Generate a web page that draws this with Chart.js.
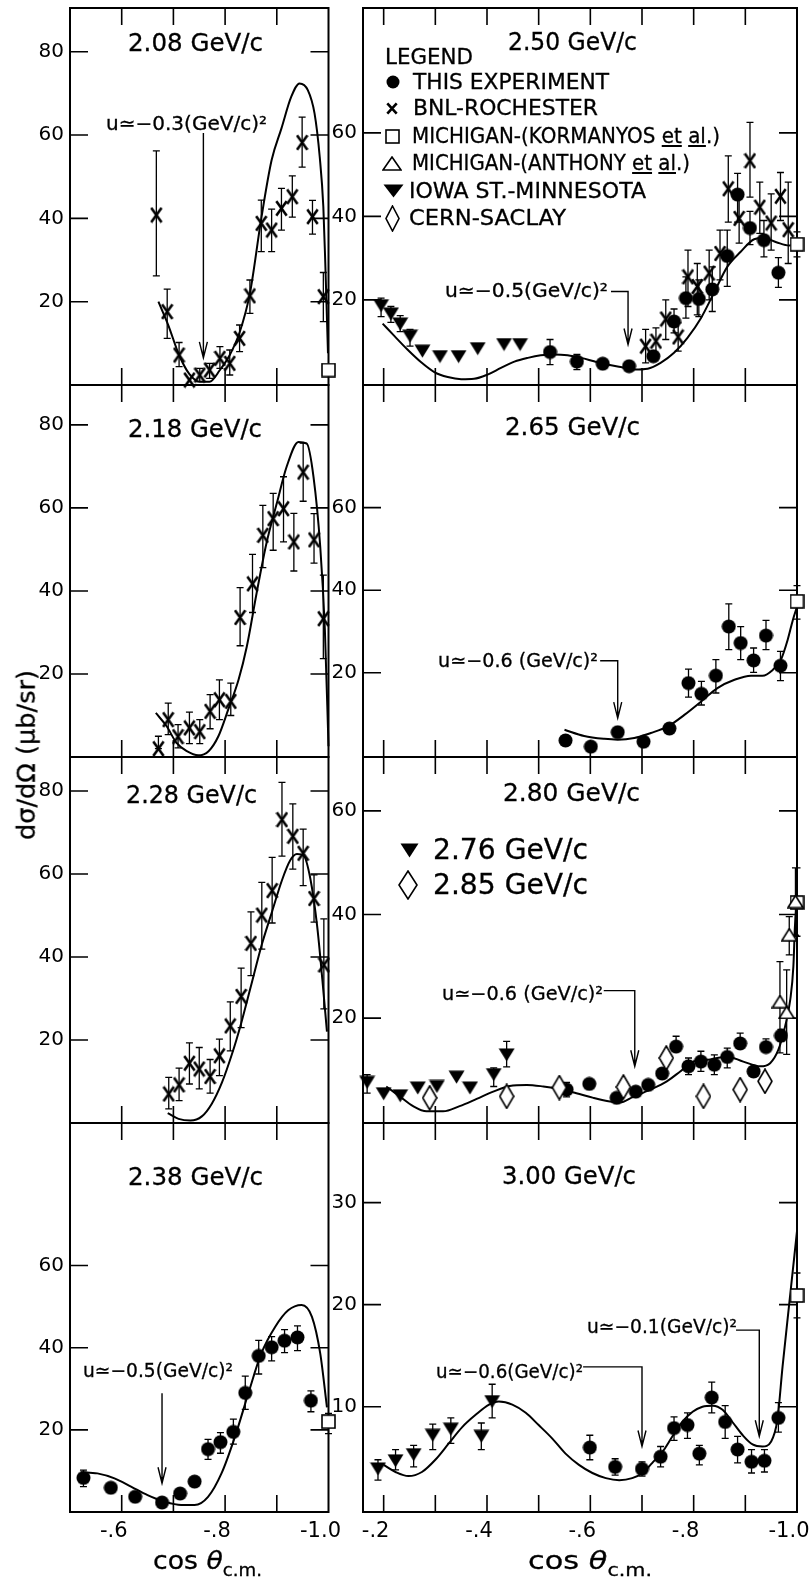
<!DOCTYPE html>
<html lang="en">
<head>
  <meta charset="UTF-8">
  <title>Backward elastic scattering - dσ/dΩ vs cos θ</title>
  <script src="https://cdn.jsdelivr.net/npm/chart.js"></script>
  <style>
    body { margin: 0; background: #fff; }
    #page { position: relative; width: 812px; height: 1583px; overflow: hidden; background: #fff; }
    #page canvas.panel { position: absolute; left: 0; top: 0; }
    .txt { position: absolute; white-space: nowrap; line-height: 1; font-family: "DejaVu Sans", sans-serif; color: #000;
           transform-origin: 0 50%; -webkit-text-stroke: 0.3px #000; }
    .sym { position: absolute; }
  </style>
</head>
<body>
<div id="page"></div>
<script>
// ---------------- axis ticks ----------------
const xTicksLeft = [-0.6, -0.7, -0.8, -0.9];
const xTicksRight = [-0.2, -0.3, -0.4, -0.5, -0.6, -0.7, -0.8, -0.9];
const xLabelsLeft = [-0.6, -0.8, -1.0];
const xLabelsRight = [-0.2, -0.4, -0.6, -0.8, -1.0];
const yTicks80 = [20, 40, 60, 80];
const yTicks60 = [20, 40, 60];
const yTicks30 = [10, 20, 30];

// ---------------- 2.08 GeV/c ----------------
const cos208Bnl = [-0.667, -0.688, -0.711, -0.731, -0.751, -0.770, -0.790, -0.809, -0.828, -0.848, -0.870, -0.890, -0.909, -0.930, -0.949, -0.969, -0.990];
const val208Bnl = [40.8, 17.6, 7.2, 1.2, 2.4, 3.6, 6.4, 5.2, 11.2, 21.4, 38.8, 37.2, 42.4, 45.2, 58.2, 40.4, 21.2];
const hi208Bnl = [56.2, 23.0, 10.2, null, 4.0, 5.2, 9.2, 8.4, 14.4, 25.2, 44.4, 42.2, 47.2, 50.2, 64.3, 44.3, 27.0];
const lo208Bnl = [26.2, 11.2, 4.4, null, 0.8, 1.6, 4.0, 2.4, 8.0, 17.2, 32.0, 32.0, 37.2, 40.3, 52.3, 36.2, 15.2];
const cos208Mich = [-1.0];
const val208Mich = [3.6];
const cos208Fit = [-0.671, -0.690, -0.711, -0.731, -0.751, -0.770, -0.790, -0.809, -0.828, -0.848, -0.870, -0.890, -0.909, -0.928, -0.944, -0.960, -0.973, -0.983, -0.990, -0.994, -0.999];
const val208Fit = [20.0, 14.4, 7.2, 2.6, 0.8, 0.8, 3.6, 7.2, 12.6, 22.0, 40.0, 54.0, 61.6, 69.2, 72.4, 70.8, 65.2, 54.8, 42.8, 28.4, 7.6];
const arr208X = [-0.758], arr208From = [null], arr208Top = [60.5], arr208Tip = [6.5];

// ---------------- 2.18 GeV/c ----------------
const cos218Bnl = [-0.671, -0.690, -0.709, -0.731, -0.751, -0.771, -0.789, -0.811, -0.829, -0.853, -0.873, -0.893, -0.913, -0.933, -0.951, -0.972, -0.990];
const val218Bnl = [2.0, 9.0, 4.9, 7.0, 6.1, 11.0, 13.8, 13.4, 33.6, 41.7, 53.4, 57.4, 59.8, 51.8, 68.6, 52.3, 33.3];
const hi218Bnl = [5.0, 13.0, 7.8, 10.8, 9.0, 15.0, 18.6, 17.8, 40.8, 48.8, 60.6, 63.5, 67.5, 58.7, 75.6, 58.6, 43.8];
const lo218Bnl = [2.0, 5.4, 2.2, 3.2, 3.2, 6.8, 9.0, 10.0, 26.8, 34.8, 45.6, 49.8, 51.8, 44.8, 61.6, 46.7, 23.7];
const cos218Fit = [-0.666, -0.687, -0.706, -0.726, -0.748, -0.768, -0.787, -0.806, -0.826, -0.842, -0.861, -0.880, -0.900, -0.919, -0.942, -0.958, -0.971, -0.984, -0.993, -1.0];
const val218Fit = [10.6, 7.4, 3.4, 1.4, 0.4, 1.4, 5.0, 11.4, 18.6, 26.6, 39.5, 51.5, 61.1, 69.9, 75.9, 75.5, 67.5, 50.7, 30.6, 2.6];

// ---------------- 2.28 GeV/c ----------------
const cos228Bnl = [-0.691, -0.711, -0.731, -0.750, -0.771, -0.789, -0.810, -0.831, -0.850, -0.871, -0.891, -0.910, -0.931, -0.951, -0.972, -0.991];
const val228Bnl = [7.0, 9.2, 14.4, 13.0, 11.2, 16.2, 23.4, 30.5, 43.3, 50.1, 56.0, 73.1, 69.1, 65.0, 54.1, 38.1];
const hi228Bnl = [11.0, 13.2, 19.3, 18.2, 15.3, 20.2, 29.2, 37.3, 50.9, 58.0, 64.0, 82.1, 76.9, 70.8, 59.8, 49.2];
const lo228Bnl = [3.4, 5.4, 9.4, 8.2, 7.2, 11.4, 17.4, 23.0, 35.5, 41.9, 48.2, 64.3, 61.2, 57.2, 48.4, 27.5];
const cos228Fit = [-0.689, -0.710, -0.733, -0.755, -0.774, -0.794, -0.813, -0.831, -0.850, -0.871, -0.891, -0.910, -0.926, -0.939, -0.952, -0.965, -0.978, -0.988, -0.997];
const val228Fit = [2.4, 1.0, 0.6, 1.6, 4.6, 9.8, 16.5, 24.0, 33.0, 43.0, 51.0, 58.5, 63.3, 64.8, 64.4, 58.8, 47.5, 34.7, 22.0];

// ---------------- 2.38 GeV/c ----------------
const cos238Dot = [-0.526, -0.579, -0.626, -0.678, -0.713, -0.741, -0.767, -0.791, -0.816, -0.839, -0.865, -0.890, -0.915, -0.940, -0.966];
const val238Dot = [8.3, 5.9, 3.7, 2.3, 4.5, 7.4, 15.3, 17.0, 19.5, 29.0, 38.0, 40.1, 41.7, 42.5, 27.1];
const hi238Dot = [10.2, null, null, null, null, null, 17.7, 19.3, 22.6, 33.1, 41.8, 42.7, 44.4, 45.3, 29.5];
const lo238Dot = [6.2, null, null, null, null, null, 12.8, 14.3, 16.5, 25.0, 33.6, 36.8, 38.8, 39.3, 24.4];
const cos238Mich = [-1.0], val238Mich = [22.0], hi238Mich = [24.0], lo238Mich = [19.1];
const cos238Fit = [-0.521, -0.553, -0.586, -0.618, -0.650, -0.683, -0.715, -0.741, -0.767, -0.793, -0.819, -0.845, -0.870, -0.897, -0.922, -0.948, -0.968, -0.984, -0.997];
const val238Fit = [9.7, 9.4, 8.2, 6.2, 4.1, 2.5, 1.7, 1.7, 3.7, 9.4, 18.3, 28.9, 38.6, 45.1, 49.1, 50.4, 47.5, 38.6, 25.5];
const arr238X = [-0.678], arr238From = [null], arr238Top = [28.9], arr238Tip = [7.0];

// ---------------- 2.50 GeV/c ----------------
const cos250Iowa = [-0.195, -0.214, -0.232, -0.251, -0.275, -0.309, -0.345, -0.382, -0.433, -0.464];
const val250Iowa = [18.6, 16.6, 14.2, 11.3, 7.7, 6.4, 6.4, 8.3, 9.3, 9.3];
const hi250Iowa = [20.4, 18.4, 16.2, 12.9, null, null, null, null, null, null];
const lo250Iowa = [16.0, 14.6, 12.4, 8.9, null, null, null, null, null, null];
const cos250Dot = [-0.522, -0.574, -0.624, -0.675, -0.722, -0.762, -0.785, -0.810, -0.836, -0.865, -0.885, -0.909, -0.936, -0.964];
const val250Dot = [7.5, 5.2, 4.7, 4.1, 6.5, 14.8, 20.4, 20.2, 22.5, 30.5, 45.2, 37.2, 34.3, 26.5];
const hi250Dot = [10.5, 6.9, null, null, null, 17.8, 25.5, 24.8, 27.9, 36.7, 50.3, 41.2, 39.0, 30.1];
const lo250Dot = [4.5, 3.3, null, null, null, 12.1, 15.6, 16.0, 17.2, 23.2, 38.6, 33.2, 30.3, 23.0];
const cos250Bnl = [-0.707, -0.727, -0.746, -0.770, -0.789, -0.807, -0.830, -0.851, -0.867, -0.888, -0.909, -0.928, -0.950, -0.968, -0.983];
const val250Bnl = [8.9, 10.1, 15.4, 11.1, 25.5, 23.2, 26.4, 31.1, 46.6, 39.5, 53.3, 42.2, 38.4, 44.8, 36.8];
const hi250Bnl = [12.9, 13.3, 20.0, 14.5, 31.9, 28.7, 31.9, 36.7, 54.5, 45.6, 62.5, 48.2, 45.4, 50.5, 48.2];
const lo250Bnl = [4.9, 6.9, 10.5, 7.7, 18.4, 16.4, 20.0, 24.8, 38.6, 33.6, 44.6, 35.9, 31.9, 39.0, 28.7];
const cos250Mich = [-1.0], val250Mich = [33.3], hi250Mich = [36.3], lo250Mich = [30.3];
const cos250Fit = [-0.198, -0.221, -0.246, -0.272, -0.298, -0.324, -0.350, -0.375, -0.401, -0.427, -0.453, -0.479, -0.504, -0.530, -0.556, -0.582, -0.607, -0.633, -0.659, -0.685, -0.711, -0.736, -0.762, -0.788, -0.814, -0.839, -0.865, -0.891, -0.917, -0.936, -0.960, -0.985, -1.0];
const val250Fit = [14.3, 11.3, 8.1, 5.1, 2.7, 1.5, 1.0, 1.1, 2.1, 3.7, 5.2, 6.1, 6.7, 6.9, 6.7, 6.1, 5.3, 4.5, 3.9, 3.3, 3.5, 4.9, 7.3, 10.9, 15.6, 21.6, 27.9, 31.5, 34.5, 34.8, 33.8, 33.0, 33.3];
const arr250X = [-0.673], arr250From = [-0.640], arr250Top = [22.0], arr250Tip = [9.3];

// ---------------- 2.65 GeV/c ----------------
const cos265Dot = [-0.552, -0.601, -0.653, -0.703, -0.753, -0.790, -0.815, -0.843, -0.868, -0.891, -0.916, -0.940, -0.968];
const val265Dot = [3.6, 2.1, 5.6, 3.3, 6.5, 17.5, 14.9, 19.3, 31.2, 27.2, 23.0, 29.0, 21.7];
const hi265Dot = [null, null, null, null, null, 20.9, 17.9, 23.2, 36.7, 31.2, 26.0, 32.7, 25.2];
const lo265Dot = [null, null, null, null, null, 14.1, 12.2, 15.1, 25.6, 23.2, 20.1, 25.6, 18.1];
const cos265Mich = [-1.0], val265Mich = [37.3], hi265Mich = [41.1], lo265Mich = [33.0];
const cos265Fit = [-0.550, -0.588, -0.627, -0.653, -0.685, -0.717, -0.750, -0.782, -0.814, -0.846, -0.879, -0.911, -0.933, -0.953, -0.969, -0.982, -0.992, -1.0];
const val265Fit = [6.2, 4.7, 4.0, 3.8, 4.2, 5.4, 7.0, 9.8, 13.0, 16.3, 18.3, 19.3, 19.3, 20.7, 23.2, 28.0, 32.8, 36.0];
const arr265X = [-0.653], arr265From = [-0.619], arr265Top = [22.9], arr265Tip = [9.0];

// ---------------- 2.80 GeV/c ----------------
const cos276Iowa = [-0.168, -0.200, -0.232, -0.266, -0.303, -0.341, -0.367, -0.413, -0.438];
const val276Iowa = [7.6, 5.4, 5.0, 6.5, 6.8, 8.6, 6.5, 9.1, 12.9];
const hi276Iowa = [9.1, null, null, null, null, null, null, 10.4, 15.5];
const lo276Iowa = [5.5, null, null, null, null, null, null, 6.8, 10.6];
const cos285Cern = [-0.289, -0.438, -0.540, -0.664, -0.747, -0.819, -0.890, -0.938];
const val285Cern = [4.6, 4.9, 6.6, 6.7, 12.3, 4.9, 6.2, 7.8];
const cos280Dot = [-0.554, -0.598, -0.651, -0.688, -0.712, -0.739, -0.766, -0.790, -0.814, -0.840, -0.865, -0.890, -0.916, -0.940, -0.969];
const val280Dot = [6.2, 7.3, 4.6, 5.8, 7.1, 9.3, 14.5, 10.7, 11.6, 11.0, 12.5, 15.1, 9.7, 14.4, 16.6];
const hi280Dot = [7.6, null, null, null, null, null, 16.5, 12.3, 13.6, 12.9, 14.2, 17.1, null, 16.0, 17.8];
const lo280Dot = [4.8, null, null, null, null, null, 14.5, 9.1, 9.7, 9.1, 10.4, 15.1, null, 14.4, 15.5];
const cos280Anth = [-0.967, -0.980, -0.985, -0.997];
const val280Anth = [23.2, 21.1, 36.1, 42.5];
const hi280Anth = [30.9, 29.3, 39.6, 49.0];
const lo280Anth = [13.3, 13.0, 32.2, 36.0];
const cos280Mich = [-1.0], val280Mich = [42.3], hi280Mich = [49.0], lo280Mich = [35.8];
const cos280Fit = [-0.205, -0.231, -0.257, -0.283, -0.315, -0.347, -0.380, -0.412, -0.444, -0.477, -0.509, -0.541, -0.573, -0.606, -0.638, -0.657, -0.683, -0.716, -0.748, -0.774, -0.799, -0.832, -0.864, -0.896, -0.929, -0.948, -0.964, -0.977, -0.987, -0.993, -0.996, -1.0];
const val280Fit = [6.8, 4.9, 3.0, 2.0, 2.0, 3.0, 4.4, 5.8, 6.9, 7.1, 6.8, 6.3, 5.5, 4.6, 3.9, 3.7, 4.8, 6.2, 7.8, 9.7, 11.6, 12.0, 12.6, 11.6, 10.7, 11.3, 13.9, 18.4, 23.6, 30.0, 37.7, 42.9];
const arr280X = [-0.686], arr280From = [-0.626], arr280Top = [25.3], arr280Tip = [10.7];

// ---------------- 3.00 GeV/c ----------------
const cos300Iowa = [-0.189, -0.223, -0.258, -0.295, -0.330, -0.389, -0.410];
const val300Iowa = [3.9, 4.7, 5.3, 7.2, 7.8, 7.1, 10.5];
const hi300Iowa = [4.8, 5.8, 6.2, 8.3, 8.9, 8.4, 12.2];
const lo300Iowa = [2.8, 3.8, 4.1, 5.8, 6.4, 5.8, 8.9];
const cos300Dot = [-0.599, -0.648, -0.700, -0.736, -0.762, -0.788, -0.811, -0.835, -0.861, -0.885, -0.912, -0.937, -0.964];
const val300Dot = [6.0, 4.1, 3.9, 5.1, 7.9, 8.2, 5.4, 10.9, 8.5, 5.8, 4.6, 4.7, 8.9];
const hi300Dot = [7.2, 4.9, 4.6, 6.1, 9.0, 9.4, 6.2, 12.4, 10.1, 7.1, 5.8, 5.8, 10.4];
const lo300Dot = [4.8, 3.3, 3.2, 4.1, 6.7, 6.9, 4.3, 9.4, 6.9, 4.5, 3.5, 3.6, 7.5];
const cos300Mich = [-1.0], val300Mich = [20.9], hi300Mich = [23.1], lo300Mich = [18.7];
const cos300Fit = [-0.200, -0.223, -0.248, -0.274, -0.300, -0.326, -0.352, -0.378, -0.404, -0.423, -0.449, -0.475, -0.500, -0.526, -0.552, -0.578, -0.604, -0.630, -0.656, -0.681, -0.701, -0.720, -0.740, -0.759, -0.778, -0.798, -0.817, -0.837, -0.856, -0.875, -0.895, -0.914, -0.933, -0.950, -0.962, -0.972, -0.985, -1.0];
const val300Fit = [4.3, 3.6, 3.2, 3.6, 4.8, 6.4, 8.0, 9.2, 10.2, 10.5, 10.2, 9.4, 8.2, 6.9, 5.4, 4.3, 3.5, 3.0, 2.8, 3.0, 3.5, 4.5, 5.6, 7.1, 8.5, 9.5, 10.0, 10.1, 9.7, 8.5, 7.2, 6.3, 6.1, 6.6, 8.7, 13.9, 20.1, 27.2];
const arr300X = [-0.700, -0.927], arr300From = [-0.586, -0.882], arr300Top = [13.9, 17.5], arr300Tip = [6.1, 7.1];

// ---------------- layout ----------------
const W = 812, H = 1583, AX = 44;
const FONT = '"DejaVu Sans", sans-serif';
const page = document.getElementById('page');
const colLeft = { l: 70, r: 328.5, xMax: -0.5, xt: xTicksLeft, xl: xLabelsLeft };
const colRight = { l: 363, r: 797, xMax: -0.16, xt: xTicksRight, xl: xLabelsRight };
const rowEdges = [8, 385, 757, 1123, 1512];

Chart.defaults.font.family = FONT;

// marker images
function sym(w, h, draw) {
  const c = document.createElement('canvas');
  c.width = w; c.height = h;
  const g = c.getContext('2d');
  g.strokeStyle = '#000'; g.fillStyle = '#000'; g.lineWidth = 1.6;
  draw(g, w, h);
  return c;
}
const dot = d => sym(d + 1, d + 1, (g, w) => { g.beginPath(); g.arc(w / 2, w / 2, d / 2, 0, Math.PI * 2); g.fill(); });
const cross = (w, h) => sym(w, h, g => {
  g.lineWidth = 2.6; g.beginPath();
  g.moveTo(1.3, 1.3); g.lineTo(w - 1.3, h - 1.3); g.moveTo(w - 1.3, 1.3); g.lineTo(1.3, h - 1.3); g.stroke();
});
const square = s => sym(s, s, g => { g.fillStyle = '#fff'; g.fillRect(1, 1, s - 2, s - 2); g.strokeRect(1, 1, s - 2, s - 2); });
const triUp = (w, h) => sym(w, h, g => {
  g.beginPath(); g.moveTo(w / 2, 1); g.lineTo(w - 1, h - 1); g.lineTo(1, h - 1); g.closePath();
  g.fillStyle = '#fff'; g.fill(); g.stroke();
});
const triDown = (w, h) => sym(w, h, g => {
  g.beginPath(); g.moveTo(0.5, 0.5); g.lineTo(w - 0.5, 0.5); g.lineTo(w / 2, h - 0.5); g.closePath(); g.fill();
});
const diamond = (w, h) => sym(w, h, g => {
  g.beginPath(); g.moveTo(w / 2, 1); g.lineTo(w - 1, h / 2); g.lineTo(w / 2, h - 1); g.lineTo(1, h / 2); g.closePath();
  g.fillStyle = '#fff'; g.fill(); g.stroke();
});

const DOT = dot(14), CROSS = cross(13, 17), SQUARE = square(15);
const TRI_UP = triUp(17, 14), TRI_DN = triDown(17, 14), DIAM = diamond(16, 26);

const pts = (xs, ys) => xs.map((v, i) => ({ x: v, y: ys[i] }));
function marks(xs, ys, style, hi, lo) {
  return { data: pts(xs, ys), showLine: false, pointStyle: style, pointRadius: 7, errHi: hi, errLo: lo, clip: false, order: 0 };
}
function curve(xs, ys) {
  return { data: pts(xs, ys), showLine: true, borderColor: '#000', borderWidth: 2, pointRadius: 0,
           cubicInterpolationMode: 'monotone', fill: false, clip: false, order: 1 };
}
function arrows(xs, from, top, tip) {
  return xs.map((v, i) => ({ x: v, from: from[i], top: top[i], tip: tip[i] }));
}

// frame, inward ticks, error bars and pointer arrows
const framePlugin = {
  id: 'frame',
  beforeDatasetsDraw(chart, args, opts) {
    const { ctx, chartArea: a, scales: { x, y } } = chart;
    ctx.save();
    ctx.strokeStyle = '#000';
    ctx.lineWidth = 2;
    ctx.strokeRect(a.left, a.top, a.right - a.left, a.bottom - a.top);
    ctx.lineWidth = 1.6;
    ctx.beginPath();
    opts.xt.forEach(v => {
      const px = x.getPixelForValue(v);
      ctx.moveTo(px, a.top); ctx.lineTo(px, a.top + 17);
      ctx.moveTo(px, a.bottom); ctx.lineTo(px, a.bottom - 17);
    });
    opts.yt.forEach(v => {
      const py = y.getPixelForValue(v);
      ctx.moveTo(a.left, py); ctx.lineTo(a.left + 18, py);
      ctx.moveTo(a.right, py); ctx.lineTo(a.right - 18, py);
    });
    ctx.stroke();

    ctx.lineWidth = 1.3;
    ctx.beginPath();
    chart.data.datasets.forEach(ds => {
      if (!ds.errHi) return;
      ds.data.forEach((p, i) => {
        const hi = ds.errHi[i], lo = ds.errLo[i];
        if (hi == null || lo == null) return;
        const px = x.getPixelForValue(p.x), y1 = y.getPixelForValue(hi), y2 = y.getPixelForValue(lo);
        ctx.moveTo(px, y1); ctx.lineTo(px, y2);
        ctx.moveTo(px - 3.5, y1); ctx.lineTo(px + 3.5, y1);
        ctx.moveTo(px - 3.5, y2); ctx.lineTo(px + 3.5, y2);
      });
    });
    ctx.stroke();

    ctx.lineWidth = 1.4;
    ctx.beginPath();
    (opts.arrows || []).forEach(ar => {
      const ax = x.getPixelForValue(ar.x), ty = y.getPixelForValue(ar.top), tp = y.getPixelForValue(ar.tip);
      if (ar.from != null) {
        ctx.moveTo(x.getPixelForValue(ar.from), ty); ctx.lineTo(ax, ty);
      } else {
        ctx.moveTo(ax, ty);
      }
      ctx.lineTo(ax, tp);
      ctx.moveTo(ax - 4, tp - 16); ctx.lineTo(ax, tp); ctx.lineTo(ax + 4, tp - 16);
    });
    ctx.stroke();
    ctx.restore();
  }
};

const fmtX = v => { const s = Math.abs(v).toFixed(1); return '-' + (s[0] === '0' ? s.slice(1) : s); };
const fixBox = horiz => s => {
  if (horiz) s.height = AX; else s.width = AX;
  s.paddingLeft = s.paddingRight = s.paddingTop = s.paddingBottom = 0;
};

function panel(o) {
  const cv = document.createElement('canvas');
  cv.className = 'panel';
  cv.width = W; cv.height = H;
  page.appendChild(cv);
  const c = o.col, t = rowEdges[o.row], b = rowEdges[o.row + 1];
  new Chart(cv, {
    type: 'line',
    data: { datasets: o.sets },
    options: {
      responsive: false,
      animation: false,
      events: [],
      layout: { padding: { left: c.l - AX, top: t, right: W - c.r, bottom: H - b - AX } },
      plugins: {
        legend: { display: false },
        tooltip: { enabled: false },
        frame: { xt: c.xt, yt: o.yt, arrows: o.arrows }
      },
      scales: {
        x: {
          type: 'linear', min: -1, max: c.xMax, reverse: true,
          grid: { display: false, drawTicks: false }, border: { display: false },
          ticks: { display: !!o.bottom, padding: 7, labelOffset: -8, color: '#000', font: { family: FONT, size: 21 },
                   maxRotation: 0, autoSkip: false, callback: fmtX },
          afterBuildTicks: s => { s.ticks = (o.bottom ? c.xl : []).map(v => ({ value: v })); },
          afterFit: fixBox(true)
        },
        y: {
          type: 'linear', min: o.yMin, max: o.yMax,
          grid: { display: false, drawTicks: false }, border: { display: false },
          ticks: { padding: 6, color: '#000', font: { family: FONT, size: 20 }, callback: v => String(v) },
          afterBuildTicks: s => { s.ticks = o.yt.map(v => ({ value: v })); },
          afterFit: fixBox(false)
        }
      }
    },
    plugins: [framePlugin]
  });
}

panel({ col: colLeft, row: 0, yMin: 0, yMax: 90.5, yt: yTicks80,
  sets: [curve(cos208Fit, val208Fit), marks(cos208Bnl, val208Bnl, CROSS, hi208Bnl, lo208Bnl), marks(cos208Mich, val208Mich, SQUARE)],
  arrows: arrows(arr208X, arr208From, arr208Top, arr208Tip) });
panel({ col: colLeft, row: 1, yMin: 0, yMax: 89.6, yt: yTicks80,
  sets: [curve(cos218Fit, val218Fit), marks(cos218Bnl, val218Bnl, CROSS, hi218Bnl, lo218Bnl)] });
panel({ col: colLeft, row: 2, yMin: 0, yMax: 88.2, yt: yTicks80,
  sets: [curve(cos228Fit, val228Fit), marks(cos228Bnl, val228Bnl, CROSS, hi228Bnl, lo228Bnl)] });
panel({ col: colLeft, row: 3, yMin: 0, yMax: 94.7, yt: yTicks60, bottom: true,
  sets: [curve(cos238Fit, val238Fit), marks(cos238Dot, val238Dot, DOT, hi238Dot, lo238Dot),
         marks(cos238Mich, val238Mich, SQUARE, hi238Mich, lo238Mich)],
  arrows: arrows(arr238X, arr238From, arr238Top, arr238Tip) });
panel({ col: colRight, row: 0, yMin: -0.4, yMax: 89.9, yt: yTicks60,
  sets: [curve(cos250Fit, val250Fit), marks(cos250Iowa, val250Iowa, TRI_DN, hi250Iowa, lo250Iowa),
         marks(cos250Dot, val250Dot, DOT, hi250Dot, lo250Dot), marks(cos250Bnl, val250Bnl, CROSS, hi250Bnl, lo250Bnl),
         marks(cos250Mich, val250Mich, SQUARE, hi250Mich, lo250Mich)],
  arrows: arrows(arr250X, arr250From, arr250Top, arr250Tip) });
panel({ col: colRight, row: 1, yMin: -0.4, yMax: 89.7, yt: yTicks60,
  sets: [curve(cos265Fit, val265Fit), marks(cos265Dot, val265Dot, DOT, hi265Dot, lo265Dot),
         marks(cos265Mich, val265Mich, SQUARE, hi265Mich, lo265Mich)],
  arrows: arrows(arr265X, arr265From, arr265Top, arr265Tip) });
panel({ col: colRight, row: 2, yMin: -0.25, yMax: 70.4, yt: yTicks60,
  sets: [curve(cos280Fit, val280Fit), marks(cos276Iowa, val276Iowa, TRI_DN, hi276Iowa, lo276Iowa),
         marks(cos285Cern, val285Cern, DIAM), marks(cos280Dot, val280Dot, DOT, hi280Dot, lo280Dot),
         marks(cos280Anth, val280Anth, TRI_UP, hi280Anth, lo280Anth), marks(cos280Mich, val280Mich, SQUARE, hi280Mich, lo280Mich)],
  arrows: arrows(arr280X, arr280From, arr280Top, arr280Tip) });
panel({ col: colRight, row: 3, yMin: -0.32, yMax: 37.8, yt: yTicks30, bottom: true,
  sets: [curve(cos300Fit, val300Fit), marks(cos300Iowa, val300Iowa, TRI_DN, hi300Iowa, lo300Iowa),
         marks(cos300Dot, val300Dot, DOT, hi300Dot, lo300Dot), marks(cos300Mich, val300Mich, SQUARE, hi300Mich, lo300Mich)],
  arrows: arrows(arr300X, arr300From, arr300Top, arr300Tip) });

// ---------------- text ----------------
function txt(html, left, width, cy, size) {
  const d = document.createElement('div');
  d.className = 'txt';
  d.innerHTML = html;
  d.style.fontSize = size + 'px';
  d.style.left = left + 'px';
  d.style.top = (cy - size / 2) + 'px';
  page.appendChild(d);
  const w = d.getBoundingClientRect().width;
  d.style.transform = 'scaleX(' + (width / w) + ')';
}
function placeSym(c, cx, cy) {
  c.className = 'sym';
  c.style.left = (cx - c.width / 2) + 'px';
  c.style.top = (cy - c.height / 2) + 'px';
  page.appendChild(c);
}

// panel titles
txt('2.08 GeV/c', 128, 135, 43, 24);
txt('2.50 GeV/c', 508, 129, 42, 24);
txt('2.18 GeV/c', 128, 134, 429, 24);
txt('2.65 GeV/c', 505, 135, 427, 24);
txt('2.28 GeV/c', 126, 131, 795, 24);
txt('2.80 GeV/c', 503, 137, 793, 24);
txt('2.38 GeV/c', 128, 135, 1177, 24);
txt('3.00 GeV/c', 502, 134, 1176, 24);

// u annotations
txt('u≃−0.3(GeV/c)²', 106, 161, 123, 19);
txt('u≃−0.5(GeV/c)²', 445, 163, 290, 19);
txt('u≃−0.6 (GeV/c)²', 438, 160, 660, 19);
txt('u≃−0.6 (GeV/c)²', 442, 161, 993, 19);
txt('u≃−0.5(GeV/c)²', 83, 150, 1370, 19);
txt('u≃−0.6(GeV/c)²', 436, 147, 1371, 19);
txt('u≃−0.1(GeV/c)²', 587, 150, 1326, 19);

// legend
txt('LEGEND', 385, 88, 57, 21);
txt('THIS EXPERIMENT', 413, 196, 82, 21);
txt('BNL-ROCHESTER', 413, 185, 108, 21);
txt('MICHIGAN-(KORMANYOS <u>et</u> <u>al</u>.)', 412, 308, 136, 21);
txt('MICHIGAN-(ANTHONY <u>et</u> <u>al</u>.)', 412, 278, 163, 21);
txt('IOWA ST.-MINNESOTA', 409, 237, 191, 21);
txt('CERN-SACLAY', 409, 157, 218, 21);
placeSym(dot(13), 393, 82);
placeSym(cross(12, 13), 391.5, 108);
placeSym(square(15), 392, 136);
placeSym(triUp(20, 15), 391.7, 163);
placeSym(triDown(21, 14), 393, 191);
placeSym(diamond(15, 27), 392.5, 218);

txt('2.76 GeV/c', 433, 155, 850, 28);
txt('2.85 GeV/c', 433, 155, 885, 28);
placeSym(triDown(19, 15), 409, 850);
placeSym(diamond(20, 30), 408, 885);

// axis titles
txt('cos <i>θ</i><span style="font-size:0.68em;position:relative;top:0.45em">c.m.</span>', 153, 109, 1560, 25);
txt('cos <i>θ</i><span style="font-size:0.68em;position:relative;top:0.45em">c.m.</span>', 528, 124, 1560, 25);
(function () {
  const d = document.createElement('div');
  d.className = 'txt';
  d.textContent = 'dσ/dΩ (μb/sr)';
  d.style.fontSize = '24px';
  page.appendChild(d);
  const w = d.getBoundingClientRect().width;
  d.style.left = (27 - w / 2) + 'px';
  d.style.top = (755 - 12) + 'px';
  d.style.transformOrigin = '50% 50%';
  d.style.transform = 'rotate(-90deg) scaleX(' + (170 / w) + ')';
})();
</script>
</body>
</html>
